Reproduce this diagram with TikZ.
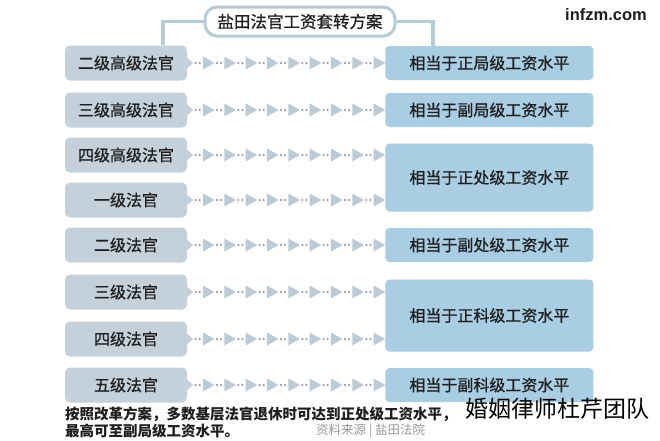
\documentclass[tikz,border=0pt]{standalone}
\usepackage{fontspec}
\setmainfont{Liberation Sans}
\newfontfamily\cjk{Noto Sans CJK SC}
\newfontfamily\cjkmid{Noto Sans CJK SC}[FakeBold=0.7]
\usepackage{xcolor}
\usepackage{tikz}
\usetikzlibrary{positioning,calc}
\definecolor{gradefill}{HTML}{C4D1DA}
\definecolor{levelfill}{HTML}{A9CEE4}
\definecolor{hopfill}{HTML}{BACBD6}
\definecolor{linec}{HTML}{B5CBD7}
\definecolor{dotc}{HTML}{9EA4A8}
\definecolor{ink}{HTML}{1E1E1E}

\begin{document}
\begin{tikzpicture}[
  x=1pt, y=-1pt,
  grade/.style={fill=gradefill, rounded corners=5pt, minimum width=122pt,
                minimum height=35pt, inner sep=0pt, text=ink,
                font=\cjkmid\fontsize{16}{18}\selectfont},
  level/.style={fill=levelfill, rounded corners=4pt, minimum width=208pt,
                minimum height=34pt, inner sep=0pt, text=ink,
                font=\cjkmid\fontsize{16}{18}\selectfont},
  headbox/.style={draw=linec, line width=3pt, fill=white, rounded corners=12pt,
                  minimum width=190pt, minimum height=29pt, inner sep=0pt,
                  text=ink, font=\cjkmid\fontsize{16.5}{19}\selectfont},
  conn/.style={draw=linec, line width=3.5pt},
  hop/.style={fill=hopfill},
  dot/.style={fill=dotc},
  note/.style={anchor=west, inner sep=0pt, text=ink,
               font=\cjk\bfseries\fontsize{14.5}{16}\selectfont},
  source/.style={anchor=west, inner sep=0pt, text=gray!80,
                 font=\cjk\fontsize{12.5}{14}\selectfont}
]
\useasboundingbox[fill=white] (0,0) rectangle (660,440);

% Title
\node[headbox] (title) at (300,21.5) {盐田法官工资套转方案};

% Judge grades
\node[grade] (l1) at (126,63) {二级高级法官};
\node[grade] (l2) at (126,110) {三级高级法官};
\node[grade] (l3) at (126,155) {四级高级法官};
\node[grade] (l4) at (126,200) {一级法官};
\node[grade] (l5) at (126,245) {二级法官};
\node[grade] (l6) at (126,292) {三级法官};
\node[grade] (l7) at (126,339) {四级法官};
\node[grade] (l8) at (126,385) {五级法官};

% Salary levels
\node[level, right=198pt of l1] (r1) {相当于正局级工资水平};
\node[level, right=198pt of l2] (r2) {相当于副局级工资水平};
\node[level, minimum height=68pt] (r3)
  at ($(r2.center |- l3.center)!0.5!(r2.center |- l4.center)$) {相当于正处级工资水平};
\node[level, right=198pt of l5] (r4) {相当于副处级工资水平};
\node[level, minimum height=72pt] (r5)
  at ($(r2.center |- l6.center)!0.5!(r2.center |- l7.center)$) {相当于正科级工资水平};
\node[level, right=198pt of l8] (r6) {相当于副科级工资水平};

% Title connectors
\draw[conn] (title.west) -| ($(l1.north east)+(-24,0)$);
\draw[conn] (title.east) -| ($(r1.north west)+(48,0)$);

% Arrow chains
\foreach \i in {1,...,8} {
  \begin{scope}[shift={(l\i.east)}]
    \fill[gradefill] (-1,-6) -- (6,0) -- (-1,6) -- cycle;
    \foreach \k in {0,...,8} {
      \fill[dot] (8.5+\k*21.33,0) circle (1.3);
      \fill[dot] (12.5+\k*21.33,0) circle (1.3);
      \fill[hop] (15.8+\k*21.33,-6.5) -- (27.33+\k*21.33,0)
        -- (15.8+\k*21.33,6.5) -- cycle;
    }
  \end{scope}
}

% Notes
\node[note] (note1) at (65,414) {按照改革方案，多数基层法官退休时可达到正处级工资水平，};
\node[note] (note2) at (65,431) {最高可至副局级工资水平。};
\node[source] (src) at (316,431) {资料来源 | 盐田法院};
\node[text=black, inner sep=0pt, font=\cjk\fontsize{23}{25}\selectfont]
  (mark) at (557,409) {婚姻律师杜芹团队};
\node[text=ink, inner sep=0pt, font=\bfseries\fontsize{16.5}{18}\selectfont]
  (site) at (606,15) {infzm.com};

\end{tikzpicture}
\end{document}
